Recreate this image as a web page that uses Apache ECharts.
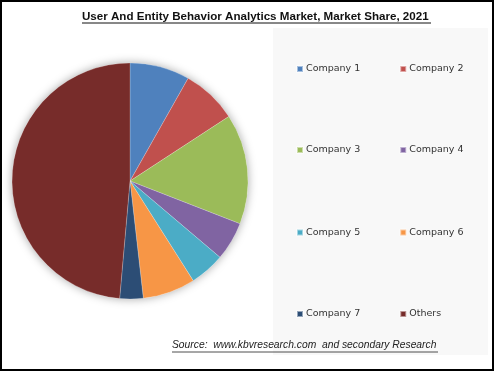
<!DOCTYPE html>
<html>
<head>
<meta charset="utf-8">
<script src="https://cdn.jsdelivr.net/npm/echarts@6/dist/echarts.min.js"></script>
<style>
html,body{margin:0;padding:0;background:#fff;}
#chart{width:495px;height:372px;}
</style>
</head>
<body>
<div id="chart"></div>
<script>
var categories = ['Company 1','Company 2','Company 3','Company 4','Company 5','Company 6','Company 7','Others'];
var shares = [8.2, 7.6, 15.1, 5.3, 4.8, 7.2, 3.2, 48.6];
var colors = ['#4F81BD','#C0504D','#9BBB59','#8064A2','#4BACC6','#F79646','#2C4D75','#772C2A'];
var titleText = 'User And Entity Behavior Analytics Market, Market Share, 2021';
var sourceText = 'Source:  www.kbvresearch.com  and secondary Research';

var chart = echarts.init(document.getElementById('chart'));
var rows = [[0,1],[2,3],[4,5],[6,7]];
var rowY = [69, 150, 232.5, 314];
var legends = rows.map(function(r, i){
  return {
    data: r.map(function(k){return categories[k];}),
    left: 296, top: rowY[i] - 5,
    orient: 'horizontal',
    icon: 'rect', itemWidth: 6, itemHeight: 6, itemGap: 39,
    selectedMode: false,
    textStyle: {fontFamily: 'DejaVu Sans', fontSize: 9.5, color: '#333', padding:[0,0,0,-2]},
    padding: 0
  };
});
chart.setOption({
  animation: false,
  title: {
    text: titleText, left: 77, top: 6,
    textStyle: {fontFamily: 'Liberation Sans', fontWeight: 'bold', fontSize: 11.6, color: '#111'}
  },
  legend: legends,
  graphic: [
    {type:'rect', z:-10, shape:{x:273,y:28,width:215,height:327}, style:{fill:'#f8f8f8'}},
    {type:'rect', z:100, shape:{x:1,y:1,width:492,height:369}, style:{fill:'none', stroke:'#000', lineWidth:2}},
    {type:'line', z:100, shape:{x1:82,y1:23,x2:431,y2:23}, style:{stroke:'#111', lineWidth:1}},
    {type:'text', z:100, left:172, top:340, style:{text: sourceText, font:'italic 10.3px "Liberation Sans"', fill:'#222'}},
    {type:'line', z:100, shape:{x1:172,y1:352,x2:438,y2:352}, style:{stroke:'#222', lineWidth:0.8}}
  ],
  series: [
    {
      type:'pie', silent:true, center:[130,181], radius:118, z:1,
      label:{show:false}, labelLine:{show:false},
      data:[{value:1, itemStyle:{color:'#fff', shadowBlur:10, shadowColor:'rgba(0,0,0,0.35)'}}]
    },
    {
      type:'pie', center:[130,181], radius:118, startAngle:90, clockwise:true, z:2,
      label:{show:false}, labelLine:{show:false},
      itemStyle:{borderColor:'rgba(255,255,255,0.5)', borderWidth:0.4},
      data: categories.map(function(c,i){return {name:c, value:shares[i], itemStyle:{color:colors[i]}};})
    }
  ]
});
</script>
</body>
</html>
